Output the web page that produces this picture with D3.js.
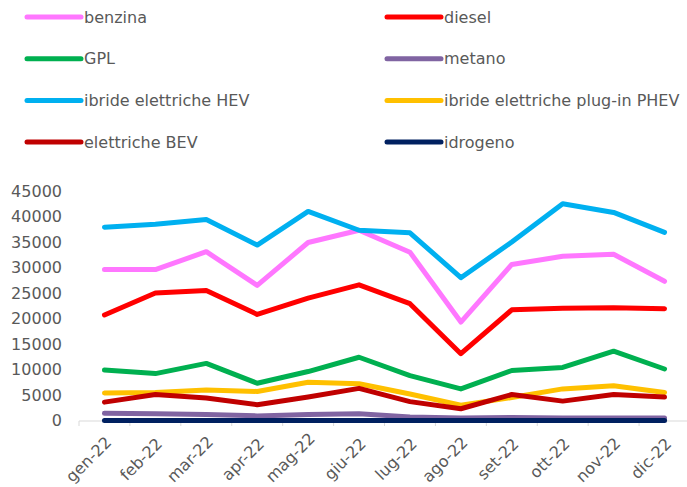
<!DOCTYPE html>
<html><head><meta charset="utf-8">
<script src="https://cdn.jsdelivr.net/npm/d3@7"></script>
<style>body{margin:0;background:#fff}svg{display:block}text{font-family:"DejaVu Sans",sans-serif;fill:#595959}</style>
</head><body><svg id="c" width="687" height="487"></svg>
<script>
const months = ["gen-22","feb-22","mar-22","apr-22","mag-22","giu-22","lug-22","ago-22","set-22","ott-22","nov-22","dic-22"];
const yTicks = [0,5000,10000,15000,20000,25000,30000,35000,40000,45000];
const seriesNames = ["benzina","diesel","GPL","metano","ibride elettriche HEV","ibride elettriche plug-in PHEV","elettriche BEV","idrogeno"];
const seriesColors = ["#FF77FF","#FF0000","#00B050","#8064A2","#00B0F0","#FFC000","#C00000","#002060"];
const benzina = [29600,29600,33100,26500,34900,37300,33000,19300,30600,32200,32600,27300];
const diesel  = [20700,25000,25500,20800,24000,26600,22900,13100,21700,22000,22100,21900];
const gpl     = [9900,9200,11200,7300,9600,12400,8800,6200,9800,10400,13600,10100];
const metano  = [1400,1300,1200,900,1200,1300,700,500,600,500,500,500];
const hev     = [37900,38500,39400,34400,41000,37300,36800,28000,35000,42500,40800,36900];
const phev    = [5400,5500,6000,5700,7500,7200,5200,3000,4500,6200,6800,5500];
const bev     = [3600,5100,4400,3100,4600,6300,3700,2300,5100,3800,5100,4600];
const idrogeno= [0,0,0,0,0,0,0,0,0,0,0,0];
const seriesValues = [benzina,diesel,gpl,metano,hev,phev,bev,idrogeno];

const svg = d3.select("#c");
const x = d3.scaleBand().domain(months).range([79, 690]);
const y = d3.scaleLinear().domain([0,45000]).range([420.5, 191]);

// x axis
const xa = svg.append("g").attr("transform","translate(0,421)");
xa.append("line").attr("x1",79).attr("x2",690).attr("y1",0).attr("y2",0).attr("stroke","#d9d9d9").attr("stroke-width",1);
months.concat(["end"]).forEach((m,i)=>{
  const xx = 79 + i*x.step();
  xa.append("line").attr("x1",xx).attr("x2",xx).attr("y1",0).attr("y2",5).attr("stroke","#d9d9d9");
});
months.forEach(m=>{
  const cx = x(m)+x.bandwidth()/2;
  const t = xa.append("text").attr("transform",`translate(${cx},${16}) rotate(-45)`).attr("text-anchor","end")
    .attr("dy","0.7em").style("font-size","16px").text(m);
  const r = t.node().getBoundingClientRect();
  if (r.bottom > 486) {
    const dyShift = r.bottom - 486;
    t.attr("transform",`translate(${cx},${16-dyShift}) rotate(-45)`);
  }
});

// y axis labels
yTicks.forEach(t=>{
  svg.append("text").attr("x",62).attr("y",y(t)).attr("dy","0.35em").attr("text-anchor","end")
    .style("font-size","16px").text(t);
});

// lines
const line = d3.line().x((d,i)=>x(months[i])+x.bandwidth()/2).y(d=>y(d));
seriesValues.forEach((vals,k)=>{
  svg.append("path").datum(vals).attr("d",line).attr("fill","none")
    .attr("stroke",seriesColors[k]).attr("stroke-width",5)
    .attr("stroke-linecap","round").attr("stroke-linejoin","round");
});

// legend
seriesNames.forEach((n,k)=>{
  const col = k%2, row = Math.floor(k/2);
  const lx = col===0 ? 27 : 387;
  const ly = 17 + row*41.7;
  svg.append("line").attr("x1",lx).attr("x2",lx+54).attr("y1",ly).attr("y2",ly)
    .attr("stroke",seriesColors[k]).attr("stroke-width",5).attr("stroke-linecap","round");
  svg.append("text").attr("x",lx+57).attr("y",ly).attr("dy","0.35em").style("font-size","16px").text(n);
});
</script></body></html>
